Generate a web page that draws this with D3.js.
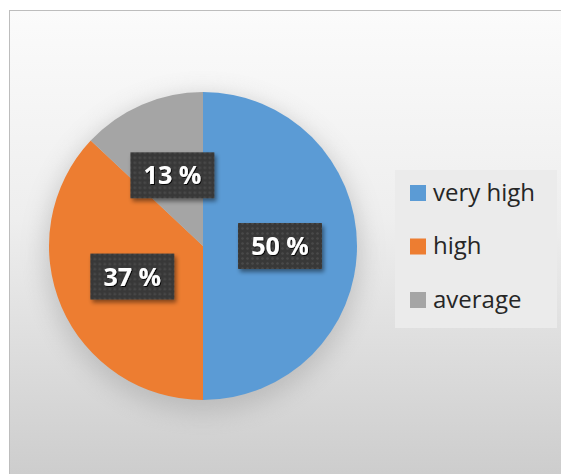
<!DOCTYPE html>
<html>
<head>
<meta charset="utf-8">
<style>
  body { margin: 0; background: #fff; }
</style>
</head>
<body>
<svg width="561" height="474"></svg>
<script src="https://d3js.org/d3.v7.min.js"></script>
<script>

var categories = ["very high", "high", "average"];
var values = [50, 37, 13];
var colors = ["#5b9bd5", "#ed7d31", "#a5a5a5"];

var svg = d3.select("svg"),
    width = +svg.attr("width"),
    height = +svg.attr("height");

var defs = svg.append("defs");

var bg = defs.append("linearGradient").attr("id", "bg")
    .attr("x1", 0).attr("y1", 0).attr("x2", 0).attr("y2", 1);
bg.append("stop").attr("offset", "0%").attr("stop-color", "#fbfbfb");
bg.append("stop").attr("offset", "45%").attr("stop-color", "#eeeeee");
bg.append("stop").attr("offset", "100%").attr("stop-color", "#cdcdcd");

var dots = defs.append("pattern").attr("id", "dots")
    .attr("width", 5).attr("height", 5)
    .attr("patternUnits", "userSpaceOnUse");
dots.append("rect").attr("width", 5).attr("height", 5).attr("fill", "#383838");
dots.append("circle").attr("cx", 2.5).attr("cy", 2.5).attr("r", 1.3).attr("fill", "#4a4a4a");

var shadow = defs.append("filter").attr("id", "shadow")
    .attr("x", "-30%").attr("y", "-30%").attr("width", "160%").attr("height", "160%");
shadow.append("feDropShadow").attr("dx", 2).attr("dy", 3)
    .attr("stdDeviation", 2).attr("flood-color", "#000").attr("flood-opacity", 0.45);

var glow = defs.append("filter").attr("id", "glow")
    .attr("x", "-30%").attr("y", "-30%").attr("width", "160%").attr("height", "160%");
glow.append("feGaussianBlur").attr("stdDeviation", 12);

var txtShadow = defs.append("filter").attr("id", "txtShadow");
txtShadow.append("feDropShadow").attr("dx", 1).attr("dy", 1)
    .attr("stdDeviation", 0.6).attr("flood-color", "#000").attr("flood-opacity", 0.9);

// chart area
svg.append("rect")
    .attr("x", 9.5).attr("y", 10.5)
    .attr("width", width - 9).attr("height", height - 10)
    .attr("fill", "url(#bg)")
    .attr("stroke", "#bdbdbd");

var cx = 203, cy = 246, r = 154;

var g = svg.append("g").attr("transform", "translate(" + cx + "," + cy + ")");

g.append("circle").attr("r", r + 4).attr("cy", 8)
    .attr("fill", "#9a9a9a").attr("opacity", 0.45)
    .attr("filter", "url(#glow)");

var pie = d3.pie().sort(null).value(function(d) { return d; });
var arc = d3.arc().innerRadius(0).outerRadius(r);
var labelArc = d3.arc().innerRadius(r * 0.5).outerRadius(r * 0.5);

var arcs = pie(values);

g.selectAll("path.slice")
    .data(arcs)
    .enter().append("path")
    .attr("class", "slice")
    .attr("d", arc)
    .attr("fill", function(d, i) { return colors[i]; });

var labels = g.selectAll("g.lbl")
    .data(arcs)
    .enter().append("g")
    .attr("class", "lbl")
    .attr("transform", function(d) {
        var c = labelArc.centroid(d);
        return "translate(" + c[0] + "," + c[1] + ")";
    });

labels.append("rect")
    .attr("x", -42).attr("y", -23)
    .attr("width", 84).attr("height", 46)
    .attr("fill", "url(#dots)")
    .attr("filter", "url(#shadow)");

labels.append("text")
    .attr("text-anchor", "middle")
    .attr("dy", "0.36em")
    .attr("fill", "#fff")
    .attr("filter", "url(#txtShadow)")
    .style("font", "bold 25px 'Open Sans', sans-serif")
    .text(function(d) { return d.data + " %"; });

// legend
var legend = svg.append("g");
legend.append("rect")
    .attr("x", 395).attr("y", 170)
    .attr("width", 162).attr("height", 158)
    .attr("fill", "#ebebeb");

var items = legend.selectAll("g.item")
    .data(categories)
    .enter().append("g")
    .attr("class", "item")
    .attr("transform", function(d, i) { return "translate(410," + (193 + i * 53.5) + ")"; });

items.append("rect")
    .attr("x", 0).attr("y", -8)
    .attr("width", 16).attr("height", 16)
    .attr("fill", function(d, i) { return colors[i]; });

items.append("text")
    .attr("x", 23)
    .attr("dy", "0.33em")
    .attr("fill", "#262626")
    .style("font", "500 24px 'Open Sans', sans-serif")
    .text(function(d) { return d; });

</script>
</body>
</html>
